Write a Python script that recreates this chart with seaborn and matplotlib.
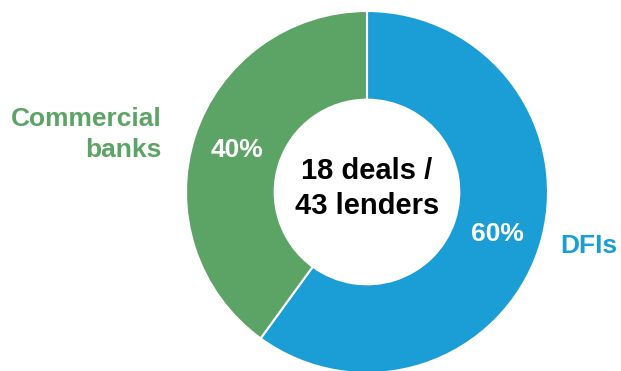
import matplotlib
matplotlib.use("Agg")
import matplotlib.pyplot as plt
import seaborn as sns

# Lender mix across the deals
categories = ["DFIs", "Commercial banks"]
shares = [60, 40]
side_labels = ["DFIs", "Commercial\nbanks"]
center_label = "18 deals /\n43 lenders"

palette = ["#1B9DD6", "#5BA465"]

sns.set_theme(style="white")
plt.rcParams["font.family"] = ["Liberation Sans", "DejaVu Sans"]
plt.rcParams["font.weight"] = "bold"

fig = plt.figure(figsize=(6.21, 3.71), dpi=100)
fig.patch.set_facecolor("white")

W, H = 621, 371
cx, cy, r = 367, 192, 181
ax = fig.add_axes([(cx - r) / W, (H - cy - r) / H, 2 * r / W, 2 * r / H])

wedges, texts, autotexts = ax.pie(
    shares,
    colors=palette,
    startangle=90,
    counterclock=False,
    radius=1.0,
    autopct=lambda p: f"{p:.0f}%",
    pctdistance=0.755,
    wedgeprops=dict(width=0.49, edgecolor="white", linewidth=1.5),
    textprops=dict(color="white", fontsize=19, fontweight="bold"),
)
ax.set_xlim(-1, 1)
ax.set_ylim(-1, 1)
ax.set_aspect("equal")
ax.axis("off")

# Centre annotation inside the hole
ax.text(0, 0.02, center_label, ha="center", va="center", fontsize=21,
        fontweight="bold", color="black", linespacing=1.3)

# Category names outside the ring
ax.text(-1.133, 0.316, side_labels[1], ha="right", va="center", fontsize=19,
        fontweight="bold", color=palette[1], linespacing=1.36, clip_on=False)
ax.text(1.066, -0.298, side_labels[0], ha="left", va="center", fontsize=19,
        fontweight="bold", color=palette[0], clip_on=False)

fig.savefig("out.png", dpi=100, facecolor="white")
